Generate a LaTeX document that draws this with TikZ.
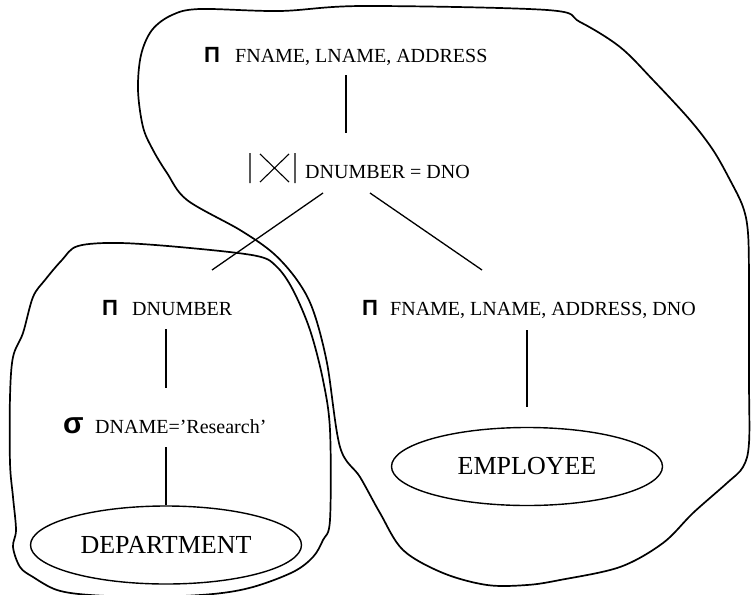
\documentclass[tikz,border=0pt]{standalone}
\usepackage{fontspec}
\setmainfont{Liberation Serif}
\newfontfamily\symsans{Liberation Sans}
\usetikzlibrary{shapes.geometric}
\begin{document}
\begin{tikzpicture}[x=1pt,y=-1pt,
  lbl/.style={anchor=base west,inner sep=0pt,font=\fontsize{20}{24}\selectfont},
  pisym/.style={anchor=base west,inner sep=0pt,font=\symsans\bfseries\fontsize{22}{26}\selectfont},
  sigsym/.style={anchor=base west,inner sep=0pt,font=\symsans\bfseries\fontsize{30}{34}\selectfont},
  rel/.style={draw,ellipse,line width=1.4pt,minimum width=271pt,minimum height=78pt,inner sep=0pt,font=\fontsize{26}{30}\selectfont},
  conn/.style={line width=1.3pt},
  blob/.style={line width=1.7pt,line join=round}]
\useasboundingbox (0,0) rectangle (751,594);

% texts
\node[pisym] (p1) at (204,63) {Π};
\node[lbl] (t1) at (235,63) {FNAME, LNAME, ADDRESS};
\node[lbl] (tj) at (305,178) {DNUMBER = DNO};
\node[pisym] (p2) at (102,315) {Π};
\node[lbl] (t2) at (132,315) {DNUMBER};
\node[pisym] (p3) at (362,315) {Π};
\node[lbl] (t3) at (390,315) {FNAME, LNAME, ADDRESS, DNO};
\node[sigsym] (s1) at (63,433) {σ};
\node[lbl] (t4) at (95,433) {DNAME=’Research’};
\node[rel] (dept) at (166,545) {DEPARTMENT};
\node[rel] (emp) at (527,466.5) {EMPLOYEE};

% join symbol
\draw[line width=1.1pt] (250,153) -- (250,183)
  (260,154) -- (289,182) (289,154) -- (260,182)
  (295,153) -- (295,183);

% connector end points
\coordinate (a1) at (346,75);
\coordinate (a2) at (346,133);
\coordinate (b1) at (323,193);
\coordinate (b2) at (212,270);
\coordinate (c1) at (370,193);
\coordinate (c2) at (482,270);
\coordinate (d1) at (166,329);
\coordinate (d2) at (166,388);
\coordinate (e1) at (166,447);
\coordinate (f1) at (527,330);
\coordinate (f2) at (527,407);

\draw[conn] (a1) -- (a2);
\draw[conn] (b1) -- (b2);
\draw[conn] (c1) -- (c2);
\draw[conn] (d1) -- (d2);
\draw[conn] (e1) -- (dept.north);
\draw[conn] (f1) -- (f2);

% big freehand outline
\draw[blob] plot[smooth cycle,tension=0.55] coordinates {
  (200,9) (280,11) (363,6) (547,10) (580,22) (620,47) (653,80) (690,120)
  (713,150) (730,180) (743,207) (748,233) (749,283) (749,380) (749,443)
  (743,467) (727,483) (693,513) (663,543) (620,567) (560,580) (527,585)
  (487,585) (443,573) (403,550) (380,513) (360,477) (340,447) (327,363)
  (313,310) (297,280) (273,253) (240,230) (187,200) (167,173) (153,150)
  (143,127) (138,90) (141,55) (152,30) (172,15)};

% small freehand outline
\draw[blob] plot[smooth cycle,tension=0.55] coordinates {
  (78,246) (120,243) (190,248) (257,256) (277,267) (293,290) (310,330)
  (323,380) (330,430) (330,520) (323,540) (313,557) (293,572) (253,587)
  (213,594) (150,597) (90,595) (57,590) (33,577) (20,567) (13,547)
  (16,530) (13,497) (10,463) (10,397) (13,357) (23,333) (33,297)
  (45,280) (62,260)};
\end{tikzpicture}
\end{document}
